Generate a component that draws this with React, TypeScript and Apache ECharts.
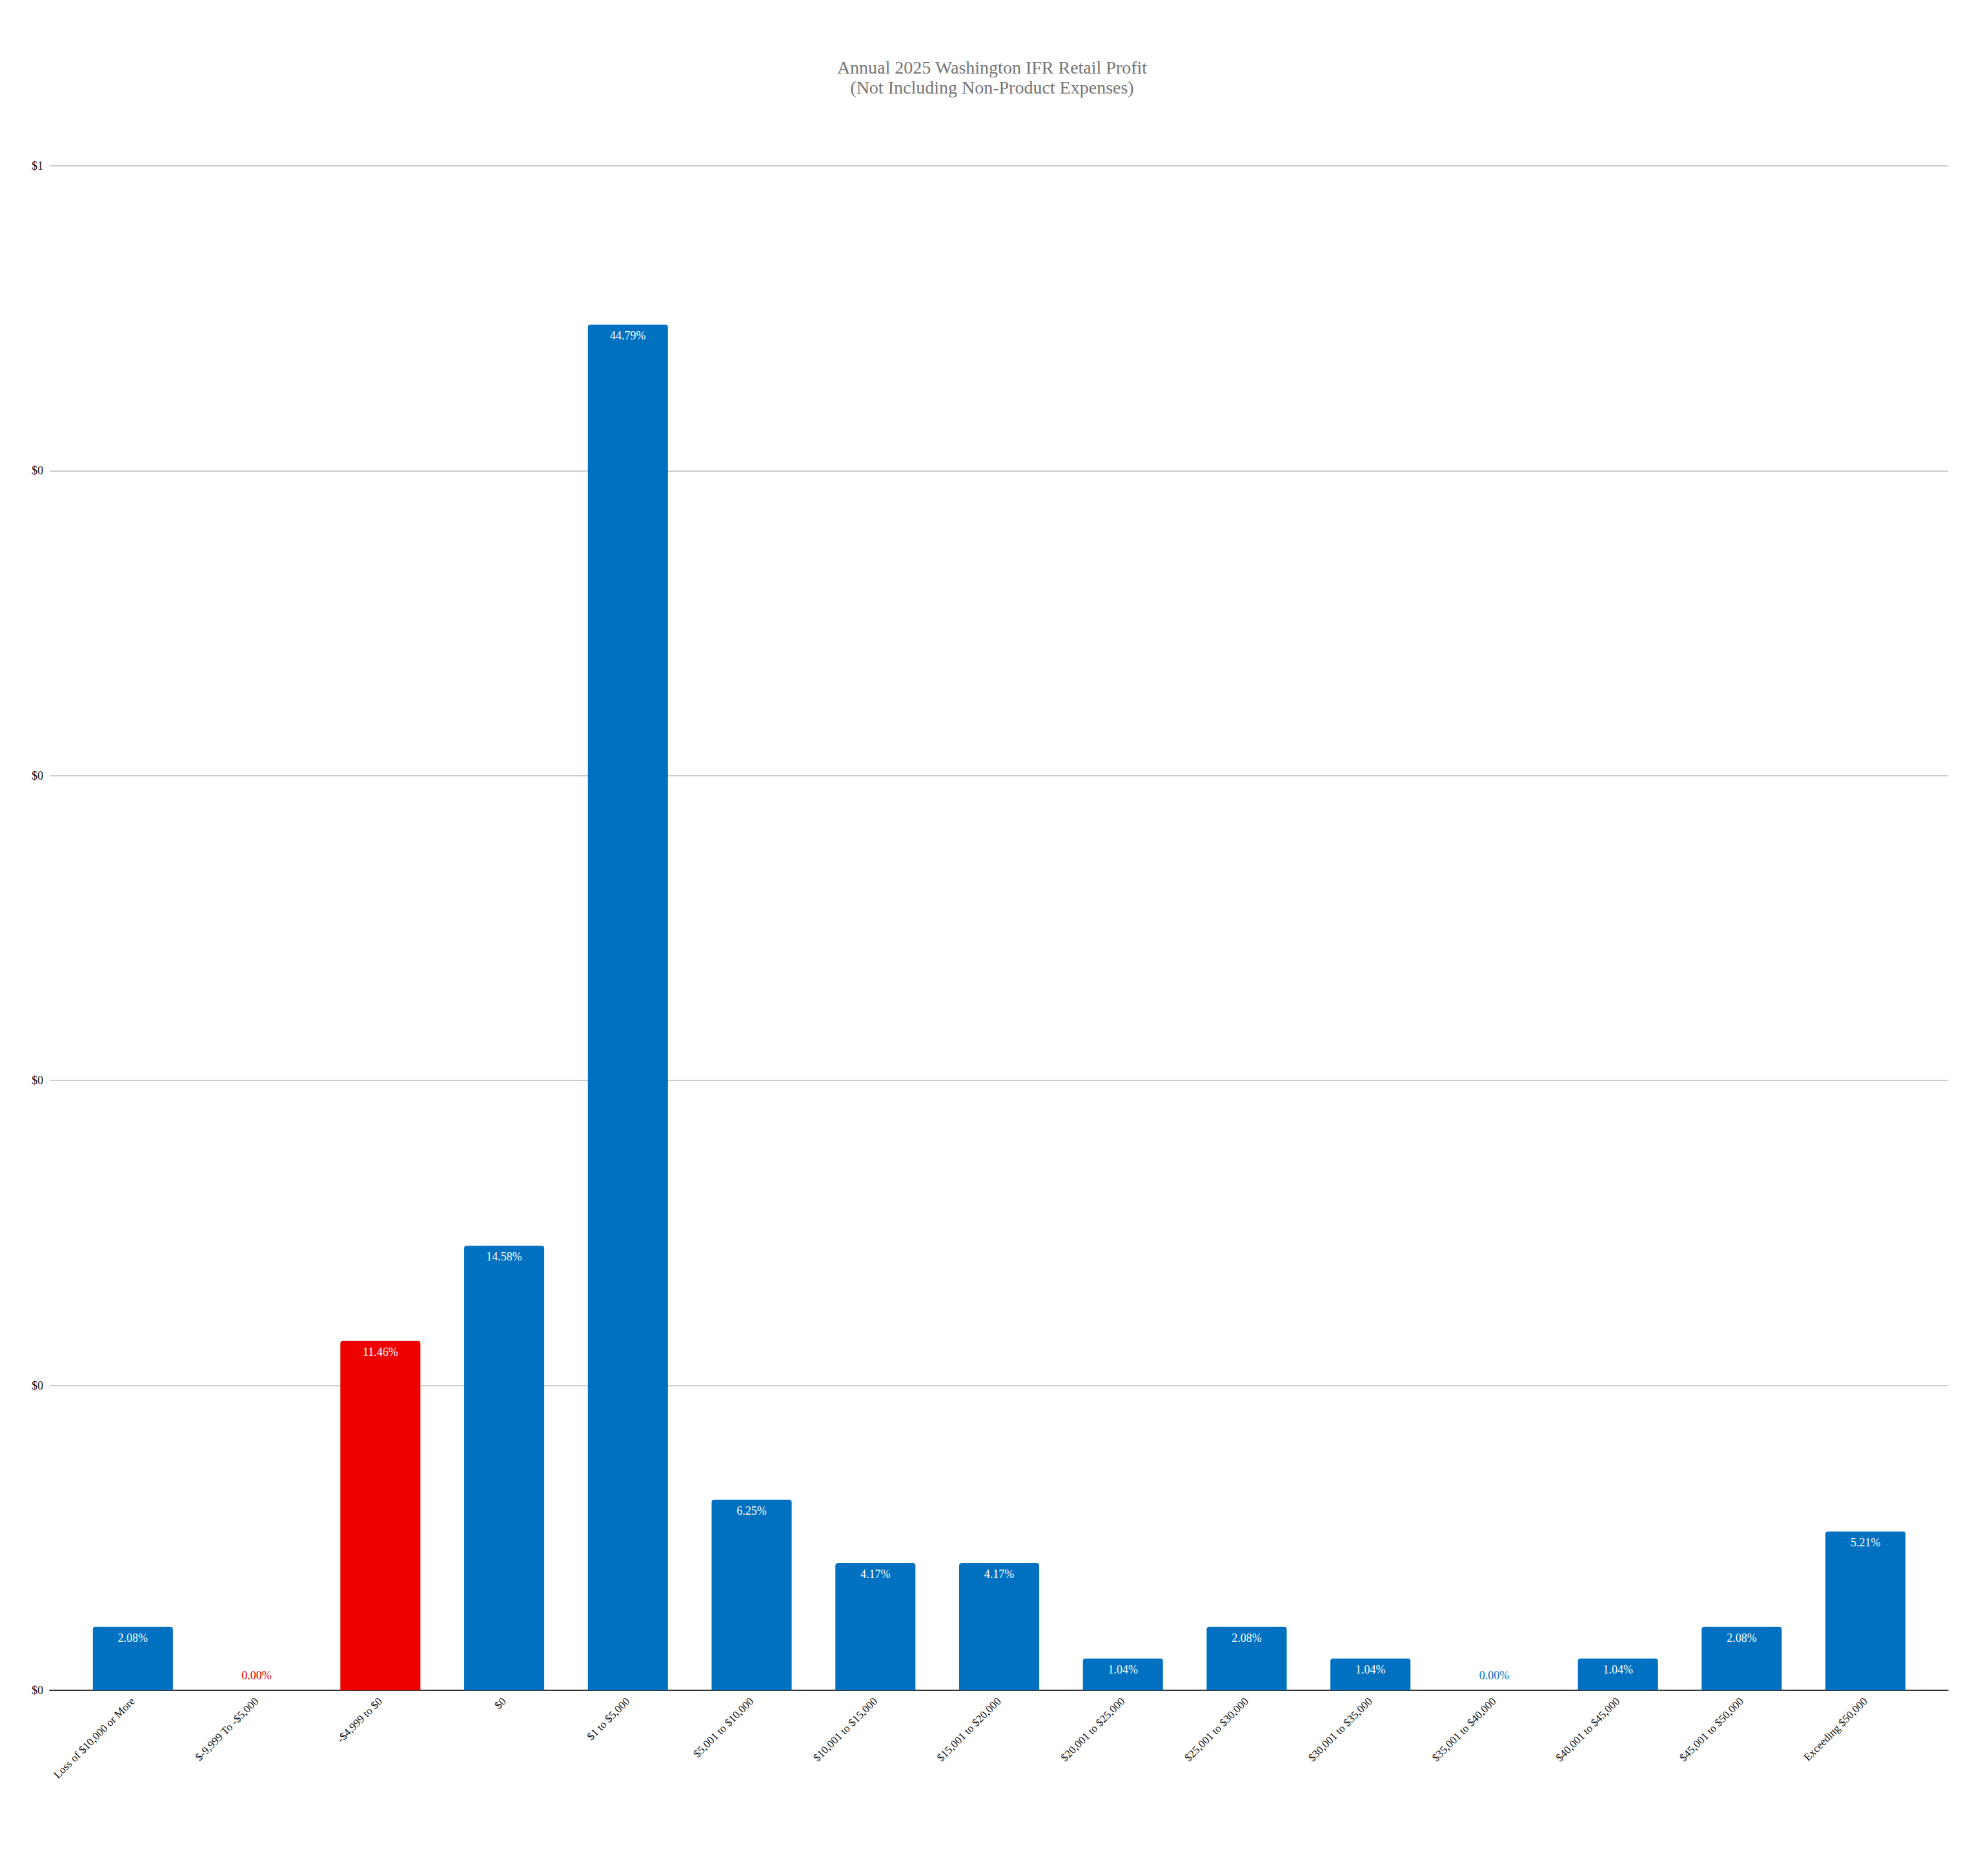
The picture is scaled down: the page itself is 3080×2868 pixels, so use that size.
import React, { useEffect, useRef } from "react";
import * as echarts from "echarts";

const titleLines = ["Annual 2025 Washington IFR Retail Profit", "(Not Including Non-Product Expenses)"];

const categories = [
  "Loss of $10,000 or More",
  "$-9,999 To -$5,000",
  "-$4,999 to $0",
  "$0",
  "$1 to $5,000",
  "$5,001 to $10,000",
  "$10,001 to $15,000",
  "$15,001 to $20,000",
  "$20,001 to $25,000",
  "$25,001 to $30,000",
  "$30,001 to $35,000",
  "$35,001 to $40,000",
  "$40,001 to $45,000",
  "$45,001 to $50,000",
  "Exceeding $50,000",
];

const shares = [
  0.0208, 0.0, 0.1146, 0.1458, 0.4479, 0.0625, 0.0417, 0.0417, 0.0104, 0.0208, 0.0104, 0.0, 0.0104, 0.0208, 0.0521,
];

const barColors = [
  "#0070C0", "#EE0000", "#EE0000", "#0070C0", "#0070C0", "#0070C0", "#0070C0", "#0070C0",
  "#0070C0", "#0070C0", "#0070C0", "#0070C0", "#0070C0", "#0070C0", "#0070C0",
];

const yMin = 0;
const yMax = 0.5;
const yStep = 0.1;

const SERIF = "'Liberation Serif', 'Times New Roman', Times, serif";

const money = new Intl.NumberFormat("en-US", {
  style: "currency",
  currency: "USD",
  minimumFractionDigits: 0,
  maximumFractionDigits: 0,
});

export default function App() {
  const ref = useRef<HTMLDivElement>(null);

  useEffect(() => {
    if (!ref.current) return;
    const chart = echarts.init(ref.current, undefined, { renderer: "svg" });
    const data = shares.map((v, i) => ({
      value: v,
      itemStyle: { color: barColors[i], borderRadius: [4, 4, 0, 0] },
      label:
        v === 0
          ? { position: "top", color: barColors[i], distance: 14 }
          : { position: "insideTop", color: "#ffffff", distance: 8 },
    }));
    chart.setOption({
      animation: false,
      backgroundColor: "#ffffff",
      title: {
        text: titleLines.join("\n"),
        left: 1532,
        textAlign: "center",
        top: 84,
        textStyle: {
          fontFamily: SERIF,
          fontSize: 28,
          fontWeight: "normal",
          color: "#757575",
          lineHeight: 31,
        },
      },
      grid: [
        { left: 77, right: 62, top: 257, bottom: 249, containLabel: false },
        { left: 110, right: 94, top: 257, bottom: 249, containLabel: false },
      ],
      xAxis: [
        {
          type: "category",
          gridIndex: 0,
          data: categories,
          axisLine: { show: true, lineStyle: { color: "#333333", width: 2 } },
          axisTick: { show: false },
          axisLabel: { show: false },
        },
        {
          type: "category",
          gridIndex: 1,
          data: categories,
          axisLine: { show: false },
          axisTick: { show: false },
          axisLabel: {
            interval: 0,
            rotate: 45,
            margin: 14,
            fontFamily: SERIF,
            fontSize: 17,
            color: "#111111",
          },
        },
      ],
      yAxis: [
        {
          type: "value",
          gridIndex: 0,
          min: yMin,
          max: yMax,
          interval: yStep,
          axisLine: { show: false },
          axisTick: { show: false },
          splitLine: { show: true, lineStyle: { color: "#cccccc", width: 2 } },
          axisLabel: {
            margin: 10,
            fontFamily: SERIF,
            fontSize: 18,
            color: "#111111",
            formatter: (v: number) => money.format(v),
          },
        },
        {
          type: "value",
          gridIndex: 1,
          min: yMin,
          max: yMax,
          interval: yStep,
          show: false,
          splitLine: { show: false },
        },
      ],
      series: [
        {
          type: "bar",
          xAxisIndex: 1,
          yAxisIndex: 1,
          data,
          barCategoryGap: "35.3%",
          label: {
            show: true,
            fontFamily: SERIF,
            fontSize: 18,
            formatter: (p: any) => (p.value * 100).toFixed(2) + "%",
          },
        },
      ],
    });
    return () => chart.dispose();
  }, []);

  return (
    <div
      ref={ref}
      style={{ position: "absolute", left: 0, top: 0, width: 3080, height: 2868 }}
    />
  );
}
